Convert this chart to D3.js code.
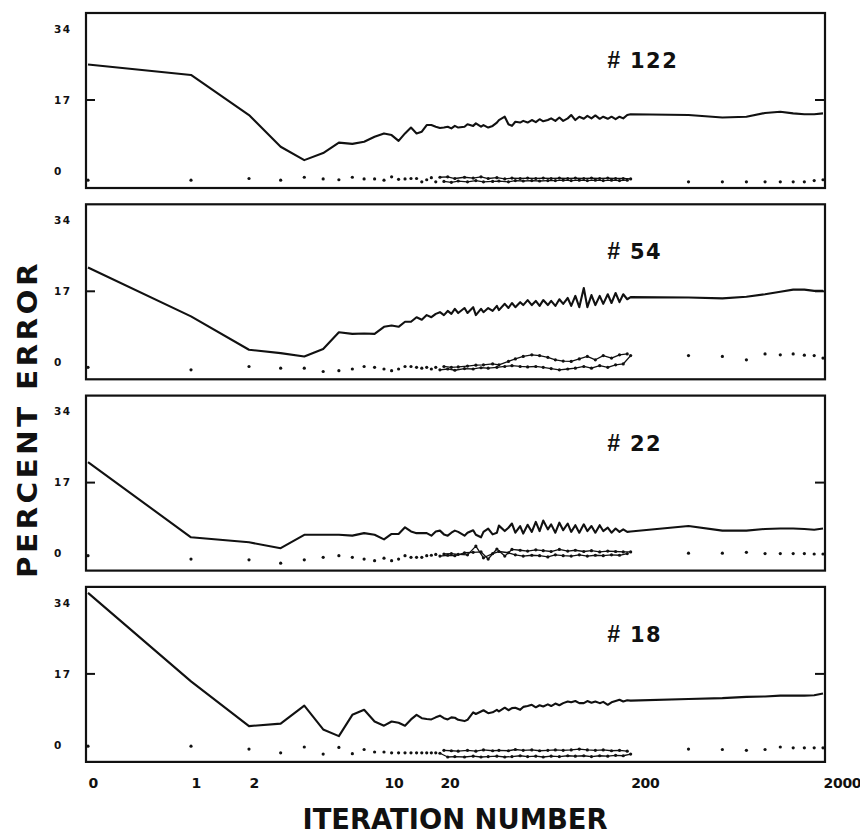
<!DOCTYPE html>
<html>
<head>
<meta charset="utf-8">
<script src="https://cdn.jsdelivr.net/npm/d3@7/dist/d3.min.js"></script>
<style>
    body { margin: 0; background: #fff; }
    svg { display: block; }
    .frame { fill: none; stroke: #111; stroke-width: 2.2; }
    .tick-mark { stroke: #111; stroke-width: 2; }
    .error-line { fill: none; stroke: #111; stroke-width: 2.1; stroke-linejoin: round; }
    .spread-line { fill: none; stroke: #111; stroke-width: 1.3; stroke-linejoin: round; }
    .spread-dot { fill: #111; }
    .y-axis text { font-family: "DejaVu Sans", sans-serif; font-weight: bold; font-size: 10.5px; letter-spacing: 1.5px; fill: #111; }
    .x-axis text { font-family: "DejaVu Sans", sans-serif; font-weight: bold; font-size: 14px; letter-spacing: -0.3px; fill: #111; }
    .run-label { font-family: "DejaVu Sans", sans-serif; font-weight: bold; font-size: 21px; letter-spacing: 1.5px; fill: #111; }
    .run-hash { font-family: "Liberation Sans", sans-serif; font-style: italic; font-size: 23px; letter-spacing: 0; }
    .axis-title { font-family: "DejaVu Sans", sans-serif; font-weight: bold; fill: #111; }
</style>
</head>
<body>
<div id="chart"></div>
<script>

// iteration numbers at which every series is sampled
var iterations = [
    0, 1, 2, 3, 4, 5, 6, 7, 8, 9, 10, 11, 12, 13, 14, 15, 16, 17, 18, 19, 20,
    21, 22, 23, 24, 25, 27, 28, 30, 31, 33, 34, 36, 38, 40, 41, 44, 46, 48, 50, 53,
    55, 58, 61, 64, 67, 70, 74, 77, 81, 85, 89, 94, 98, 103, 108, 114, 119, 125, 131, 138,
    144, 152, 159, 167, 175, 183, 192, 200,
    400, 600, 800, 1000, 1200, 1400, 1600, 1800, 2000
];

var xTicks = [0, 1, 2, 10, 20, 200, 2000];
var yTicks = [0, 17, 34];
var runLabels = ['122', '54', '22', '18'];

// solid curve (percent error) per run
var error122 = [
    25.5, 23.0, 13.4, 5.8, 2.6, 4.3, 6.8, 6.5, 7.0, 8.2, 9.0, 8.6, 7.2, 9.0, 10.4, 9.0, 9.4, 11.0, 11.0, 10.6, 10.3,
    10.4, 10.6, 10.2, 10.8, 10.4, 10.6, 11.2, 10.8, 11.4, 10.6, 11.0, 10.4, 10.8, 11.6, 12.2, 13.0, 11.2, 10.8, 11.8, 11.6,
    12.0, 11.6, 12.2, 11.7, 12.4, 11.9, 12.2, 12.6, 12.0, 12.8, 12.0, 12.6, 13.4, 12.2, 13.0, 12.5, 13.2, 12.6, 13.3, 12.5,
    13.0, 12.5, 13.0, 12.4, 13.0, 12.6, 13.4, 13.6,
    13.4, 12.8, 13.0, 13.9, 14.2, 13.8, 13.6, 13.6, 13.8
];
var error54 = [
    22.7, 11.0, 3.0, 2.2, 1.4, 3.2, 7.2, 6.8, 6.9, 6.8, 8.5, 8.8, 8.5, 9.7, 9.7, 10.8, 10.2, 11.3, 10.8, 11.6, 12.0,
    11.3, 12.3, 11.6, 12.8, 11.8, 13.0, 11.8, 13.2, 11.3, 12.8, 12.0, 13.0, 12.3, 13.5, 12.5, 14.0, 13.0, 14.2, 13.2, 14.4,
    13.7, 14.9, 13.7, 14.7, 13.5, 14.9, 13.7, 14.7, 13.5, 15.1, 14.0, 15.4, 13.5, 15.9, 13.2, 17.8, 13.2, 16.1, 13.7, 15.9,
    14.0, 16.3, 14.2, 16.6, 14.4, 16.3, 15.1, 15.6,
    15.5, 15.3, 15.7, 16.3, 16.9, 17.4, 17.4, 17.1, 17.1
];
var error22 = [
    21.9, 3.9, 2.7, 1.3, 4.5, 4.5, 4.5, 4.3, 4.9, 4.5, 3.4, 4.7, 4.7, 6.3, 5.3, 4.9, 4.9, 4.9, 4.3, 5.3, 5.5,
    4.6, 4.3, 5.0, 5.5, 5.2, 4.3, 5.0, 5.6, 4.5, 3.9, 5.2, 6.0, 4.6, 5.0, 6.7, 5.4, 6.2, 7.2, 5.0, 6.6,
    4.8, 6.9, 5.2, 7.6, 5.4, 7.9, 5.8, 7.0, 5.0, 7.4, 5.6, 7.2, 5.2, 6.8, 5.0, 7.0, 5.4, 6.6, 5.0, 6.8,
    5.4, 6.2, 5.0, 6.0, 5.2, 5.8, 5.2, 5.3,
    6.6, 5.5, 5.5, 5.9, 6.0, 6.0, 5.9, 5.7, 6.0
];
var error18 = [
    36.4, 15.2, 4.5, 5.1, 9.4, 3.7, 2.1, 7.2, 8.4, 5.6, 4.6, 5.6, 5.3, 4.6, 6.1, 7.2, 6.4, 6.2, 6.1, 6.6, 7.0,
    6.4, 6.1, 6.6, 6.5, 6.0, 5.7, 6.0, 7.8, 7.4, 8.0, 8.3, 7.6, 7.8, 8.4, 8.0, 8.9, 8.3, 8.8, 8.9, 8.4,
    9.1, 9.3, 9.6, 9.0, 9.5, 9.2, 9.7, 9.3, 9.9, 9.5, 10.0, 10.4, 10.2, 10.5, 10.0, 10.0, 10.5, 10.1, 10.4, 10.0,
    10.3, 9.6, 10.2, 10.5, 10.8, 10.4, 10.7, 10.6,
    11.0, 11.2, 11.5, 11.6, 11.8, 11.8, 11.8, 11.9, 12.3
];

// dotted curve per run
var spread122 = [
    -2.2, -2.2, -1.8, -2.2, -1.5, -1.9, -2.1, -1.5, -1.9, -1.9, -2.2, -1.4, -2.0, -1.9, -1.8, -1.8, -2.6, -2.1, -1.6, -2.6, -1.5,
    -2.5, -1.4, -2.7, -1.8, -2.4, -1.5, -2.6, -1.7, -2.3, -1.4, -2.6, -1.8, -2.5, -1.6, -2.4, -1.9, -2.6, -1.7, -2.3, -1.8,
    -2.4, -1.7, -2.3, -1.8, -2.4, -1.7, -2.3, -1.8, -2.3, -1.7, -2.2, -1.8, -2.3, -1.7, -2.2, -1.8, -2.3, -1.7, -2.2, -1.8,
    -2.3, -1.7, -2.2, -1.8, -2.3, -1.8, -2.2, -1.9,
    -2.6, -2.6, -2.6, -2.6, -2.6, -2.6, -2.6, -2.3, -2.1
];
var spread54 = [
    -1.2, -1.8, -1.0, -1.4, -1.4, -2.2, -2.0, -1.6, -1.0, -1.2, -1.6, -2.0, -1.6, -1.0, -1.0, -1.2, -1.4, -1.2, -1.6, -1.2, -1.8,
    -1.0, -1.6, -1.2, -1.9, -1.1, -1.5, -0.9, -1.6, -0.7, -1.3, -0.6, -1.4, -0.4, -1.2, -0.6, -1.0, 0.2, -0.8, 0.8, -1.0,
    1.4, -1.1, 1.8, -1.0, 1.6, -1.2, 1.2, -1.5, 0.6, -1.8, 0.3, -1.6, 0.2, -1.4, 0.8, -1.0, 1.4, -1.4, 0.6, -0.8,
    1.6, -1.2, 1.0, -0.6, 1.8, -0.4, 2.0, 1.6,
    1.6, 1.4, 0.6, 2.0, 1.8, 2.0, 1.7, 1.6, 1.0
];
var spread22 = [
    -0.5, -1.3, -1.5, -2.3, -1.5, -0.9, -0.5, -0.9, -1.3, -1.7, -1.1, -1.7, -1.3, -0.5, -0.9, -0.9, -0.9, -0.5, -0.4, -0.2, -0.6,
    -0.1, -0.4, 0.0, -0.5, -0.2, 0.2, -0.3, 0.3, 1.8, 0.4, -1.0, -1.3, 0.0, 1.1, 0.5, -0.6, 0.2, 1.0, -0.3, 0.8,
    -0.6, 0.6, -0.4, 0.9, -0.5, 0.7, -0.8, 0.5, -0.3, 1.0, -0.5, 0.6, -0.6, 0.8, -0.3, 0.5, -0.6, 0.7, -0.4, 0.4,
    -0.5, 0.6, -0.3, 0.5, -0.4, 0.4, 0.0, 0.4,
    0.1, 0.1, 0.3, 0.0, 0.0, 0.0, 0.0, -0.1, -0.1
];
var spread18 = [
    -0.3, -0.3, -1.0, -1.9, -0.5, -2.2, -0.6, -2.1, -1.1, -1.7, -1.7, -1.9, -1.9, -1.9, -1.9, -1.9, -1.9, -1.9, -1.9, -1.9, -2.0,
    -1.3, -2.9, -1.4, -2.8, -1.5, -2.9, -1.3, -2.7, -1.5, -2.9, -1.2, -2.8, -1.4, -2.7, -1.3, -2.9, -1.4, -2.8, -1.1, -2.6,
    -1.3, -2.8, -1.2, -2.7, -1.4, -2.9, -1.3, -2.7, -1.2, -2.8, -1.3, -2.6, -1.2, -2.7, -1.0, -2.6, -1.2, -2.8, -1.3, -2.6,
    -1.2, -2.7, -1.4, -2.5, -1.3, -2.6, -1.5, -2.2,
    -1.0, -1.1, -1.3, -1.1, -0.5, -0.7, -0.7, -0.7, -0.7
];


class IterationPanels {


    constructor(config) {

        this._runs = config.runs;

        this._width = 860;
        this._height = 837;

        this._margin = {
            left: 86,
            top: 13
        };

        this._panel = {
            width: 739,
            height: 175,
            step: 191.3
        };
    }


    static getInstance(config) {

        return new IterationPanels(config);
    }


    renderTo(selector) {

        this._svg = d3.select(selector)
            .append('svg')
            .attr('width', this._width)
            .attr('height', this._height);

        var panels = this._svg.selectAll('g.panel')
            .data(this._runs)
            .enter()
            .append('g')
            .attr('class', 'panel')
            .attr('transform', (d, i) => 'translate(' + [this._margin.left, this._margin.top + i * this._panel.step] + ')');

        var self = this;

        panels.each(function(d) {
            self._drawPanel(d3.select(this), d);
        });

        this._drawXAxis();
        this._drawTitles();

        return this;
    }


    _drawPanel(g, run) {

        var xScale = this._getXScale();
        var yScale = this._getYScale();
        var w = this._panel.width;

        var points = iterations.map((it, i) => ({ it: it, error: run.error[i], spread: run.spread[i] }));

        g.append('rect')
            .attr('class', 'frame')
            .attr('width', w)
            .attr('height', this._panel.height);

        var yAxis = g.append('g')
            .attr('class', 'y-axis')
            .call(d3.axisLeft(yScale)
                .tickValues(yTicks)
                .tickSize(0)
            );

        yAxis.select('.domain').remove();
        yAxis.selectAll('text')
            .attr('x', -32)
            .style('text-anchor', 'start');

        // short inward ticks at 17 on both sides
        g.append('line')
            .attr('class', 'tick-mark')
            .attr('x1', 0)
            .attr('x2', 9)
            .attr('y1', yScale(17))
            .attr('y2', yScale(17));

        g.append('line')
            .attr('class', 'tick-mark')
            .attr('x1', w - 10)
            .attr('x2', w)
            .attr('y1', yScale(17))
            .attr('y2', yScale(17));

        // in the dense stretch the dots merge into two interleaved strands
        var dense = points.filter(d => d.it >= 20 && d.it <= 200);
        var strands = [
            dense.filter((d, i) => i % 2 === 0),
            dense.filter((d, i) => i % 2 === 1)
        ];

        g.selectAll('path.spread-line')
            .data(strands)
            .enter()
            .append('path')
            .attr('class', 'spread-line')
            .attr('d', d3.line()
                .x(d => xScale(d.it))
                .y(d => yScale(d.spread)));

        g.selectAll('circle.spread-dot')
            .data(points)
            .enter()
            .append('circle')
            .attr('class', 'spread-dot')
            .attr('cx', d => xScale(d.it))
            .attr('cy', d => yScale(d.spread))
            .attr('r', 1.6);

        g.append('path')
            .attr('class', 'error-line')
            .datum(points)
            .attr('d', d3.line()
                .x(d => xScale(d.it))
                .y(d => yScale(d.error)));

        var label = g.append('text')
            .attr('class', 'run-label')
            .attr('x', 521)
            .attr('y', 55);

        label.append('tspan')
            .attr('class', 'run-hash')
            .text('#');

        label.append('tspan')
            .attr('x', 544)
            .text(run.label);
    }


    _drawXAxis() {

        var bottom = this._margin.top + (this._runs.length - 1) * this._panel.step + this._panel.height;

        var axis = this._svg.append('g')
            .attr('class', 'x-axis')
            .attr('transform', 'translate(' + [this._margin.left, bottom] + ')')
            .call(d3.axisBottom(this._getXScale())
                .tickValues(xTicks)
                .tickFormat(d3.format('d'))
                .tickSize(0)
                .tickPadding(16)
            );

        axis.select('.domain').remove();
        axis.selectAll('text')
            .style('text-anchor', 'start');
    }


    _drawTitles() {

        this._svg.append('text')
            .attr('class', 'axis-title')
            .attr('transform', 'translate(37,419) rotate(-90)')
            .attr('text-anchor', 'middle')
            .attr('font-size', 26)
            .attr('letter-spacing', 3)
            .attr('textLength', 318)
            .attr('lengthAdjust', 'spacingAndGlyphs')
            .text('PERCENT ERROR');

        this._svg.append('text')
            .attr('class', 'axis-title')
            .attr('x', 455)
            .attr('y', 829)
            .attr('text-anchor', 'middle')
            .attr('font-size', 29)
            .attr('textLength', 305)
            .attr('lengthAdjust', 'spacingAndGlyphs')
            .text('ITERATION NUMBER');
    }


    _getXScale() {

        return d3.scaleSymlog()
            .constant(0.5)
            .domain([0, 1, 2, 10, 2000])
            .range([2, 105, 163, 298, 737]);
    }


    _getYScale() {

        return d3.scaleLinear()
            .domain([0, 34])
            .range([158, 16]);
    }
}


IterationPanels.getInstance({
    runs: [
        { label: runLabels[0], error: error122, spread: spread122 },
        { label: runLabels[1], error: error54, spread: spread54 },
        { label: runLabels[2], error: error22, spread: spread22 },
        { label: runLabels[3], error: error18, spread: spread18 }
    ]
}).renderTo('#chart');

</script>
</body>
</html>
